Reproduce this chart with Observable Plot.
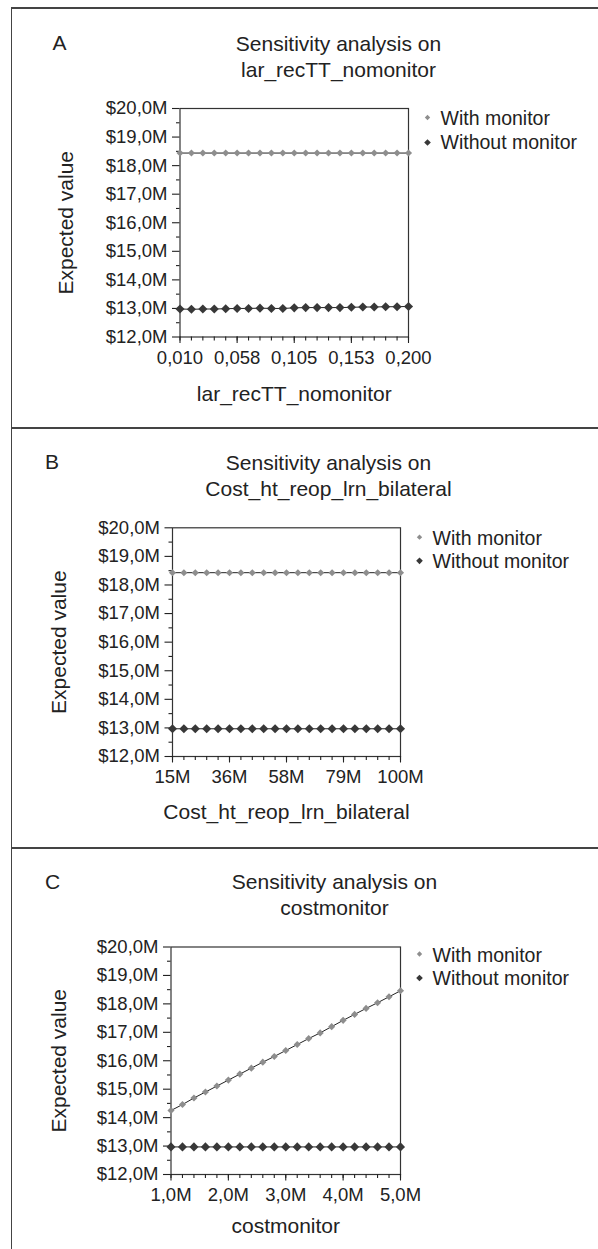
<!DOCTYPE html>
<html><head><meta charset="utf-8">
<script src="https://cdn.jsdelivr.net/npm/d3@7"></script>
<script src="https://cdn.jsdelivr.net/npm/@observablehq/plot@0.6"></script>
<style>
html,body{margin:0;padding:0;background:#fff;}
#root{position:relative;width:598px;height:1249px;overflow:hidden;font-family:"Liberation Sans",Arial,sans-serif;color:#222;}
.rule{position:absolute;background:#444;}
.psvg{position:absolute;left:0;}
</style></head><body><div id="root"></div>
<script>
// ---------- data ----------
const panelLetters = ["A", "B", "C"];
const variableNames = ["lar_recTT_nomonitor", "Cost_ht_reop_lrn_bilateral", "costmonitor"];
const titlePrefix = "Sensitivity analysis on";
const yLabel = "Expected value";
const seriesNames = ["With monitor", "Without monitor"];

const yTicks = [12, 13, 14, 15, 16, 17, 18, 19, 20];
const yMinorTicks = [12.5, 13.5, 14.5, 15.5, 16.5, 17.5, 18.5, 19.5];
const yTickLabels = ["$12,0M", "$13,0M", "$14,0M", "$15,0M", "$16,0M", "$17,0M", "$18,0M", "$19,0M", "$20,0M"];

// Panel A: lar_recTT_nomonitor
const xA = [0.0100, 0.0195, 0.0290, 0.0385, 0.0480, 0.0575, 0.0670, 0.0765, 0.0860, 0.0955, 0.1050,
            0.1145, 0.1240, 0.1335, 0.1430, 0.1525, 0.1620, 0.1715, 0.1810, 0.1905, 0.2000];
const xTicksA = [0.010, 0.0575, 0.105, 0.1525, 0.200];
const xTickLabelsA = ["0,010", "0,058", "0,105", "0,153", "0,200"];
const withA = [18.44, 18.44, 18.44, 18.44, 18.44, 18.44, 18.44, 18.44, 18.44, 18.44, 18.44,
               18.44, 18.44, 18.44, 18.44, 18.44, 18.44, 18.44, 18.44, 18.44, 18.44];
const withoutA = [12.98, 12.97, 12.98, 12.98, 12.99, 13.00, 13.00, 13.01, 13.00, 13.00, 13.02,
                  13.03, 13.03, 13.03, 13.03, 13.04, 13.05, 13.05, 13.06, 13.06, 13.07];

// Panel B: Cost_ht_reop_lrn_bilateral (millions)
const xB = [15, 19.25, 23.5, 27.75, 32, 36.25, 40.5, 44.75, 49, 53.25, 57.5,
            61.75, 66, 70.25, 74.5, 78.75, 83, 87.25, 91.5, 95.75, 100];
const xTicksB = [15, 36.25, 57.5, 78.75, 100];
const xTickLabelsB = ["15M", "36M", "58M", "79M", "100M"];
const withB = [18.43, 18.43, 18.43, 18.43, 18.43, 18.43, 18.43, 18.43, 18.43, 18.43, 18.43,
               18.43, 18.43, 18.43, 18.43, 18.43, 18.43, 18.43, 18.43, 18.43, 18.43];
const withoutB = [12.97, 12.97, 12.97, 12.97, 12.97, 12.97, 12.97, 12.97, 12.97, 12.97, 12.97,
                  12.97, 12.97, 12.97, 12.97, 12.97, 12.97, 12.97, 12.97, 12.97, 12.97];

// Panel C: costmonitor (millions)
const xC = [1.0, 1.2, 1.4, 1.6, 1.8, 2.0, 2.2, 2.4, 2.6, 2.8, 3.0,
            3.2, 3.4, 3.6, 3.8, 4.0, 4.2, 4.4, 4.6, 4.8, 5.0];
const xTicksC = [1, 2, 3, 4, 5];
const xTickLabelsC = ["1,0M", "2,0M", "3,0M", "4,0M", "5,0M"];
const withC = [14.25, 14.46, 14.69, 14.90, 15.11, 15.32, 15.53, 15.74, 15.95, 16.15, 16.36,
               16.57, 16.78, 16.98, 17.20, 17.42, 17.63, 17.84, 18.04, 18.25, 18.46];
const withoutC = [12.97, 12.97, 12.97, 12.97, 12.97, 12.97, 12.97, 12.97, 12.97, 12.97, 12.97,
                  12.97, 12.97, 12.97, 12.97, 12.97, 12.97, 12.97, 12.97, 12.97, 12.97];

// ---------- layout ----------
const FONT = "'Liberation Sans', Arial, Helvetica, sans-serif";
const INK = "#222";
const WITH_COLOR = "#8e8e8e";
const WITHOUT_COLOR = "#383838";

const panels = [
  {x: xA, w: withA, wo: withoutA, ticks: xTicksA, labels: xTickLabelsA,
   top: 8, h: 420, left: 179.5, right: 408, frameTop: 108, frameBottom: 336.5,
   titleX: 338, titleY: 55, letterX: 59, letterY: 43, yLabX: 66, xLabDy: 57.5, legDy: [9, 34]},
  {x: xB, w: withB, wo: withoutB, ticks: xTicksB, labels: xTickLabelsB,
   top: 428, h: 420, left: 172, right: 400, frameTop: 527.3, frameBottom: 756,
   titleX: 328, titleY: 474, letterX: 51.5, letterY: 462, yLabX: 59, xLabDy: 55.7, legDy: [9.4, 33]},
  {x: xC, w: withC, wo: withoutC, ticks: xTicksC, labels: xTickLabelsC,
   top: 848, h: 401, left: 170.5, right: 400, frameTop: 946.5, frameBottom: 1174,
   titleX: 334, titleY: 893.5, letterX: 52, letterY: 882, yLabX: 59, xLabDy: 52, legDy: [7, 31]}
];

const root = document.getElementById("root");
function rule(l, t, w, h) {
  const d = document.createElement("div");
  d.className = "rule";
  d.style.left = l + "px"; d.style.top = t + "px";
  d.style.width = w + "px"; d.style.height = h + "px";
  root.appendChild(d);
}

const yLabMap = new Map(yTicks.map((v, i) => [v, yTickLabels[i]]));

panels.forEach((p, k) => {
  const rowsWith = p.x.map((x, i) => ({x, y: p.w[i]}));
  const rowsWithout = p.x.map((x, i) => ({x, y: p.wo[i]}));
  const xLabMap = new Map(p.ticks.map((v, i) => [v, p.labels[i]]));
  const frameTopRel = p.frameTop - p.top;
  const frameBottomRel = p.frameBottom - p.top;
  const midX = (p.left + p.right) / 2;

  const svg = Plot.plot({
    width: 598,
    height: p.h,
    marginLeft: p.left,
    marginRight: 598 - p.right,
    marginTop: frameTopRel,
    marginBottom: p.h - frameBottomRel,
    style: {fontFamily: FONT, fontSize: "18.5px", color: INK, background: "transparent", overflow: "visible"},
    x: {domain: [p.x[0], p.x[p.x.length - 1]]},
    y: {domain: [12, 20]},
    marks: [
      Plot.frame({stroke: "#333", strokeWidth: 1.2}),
      Plot.axisY({ticks: yMinorTicks, tickSize: 3.5, tickFormat: () => "", label: null, strokeWidth: 1.1}),
      Plot.axisY({ticks: yTicks, tickSize: 7.5, tickPadding: 5, tickFormat: d => yLabMap.get(d), label: null, strokeWidth: 1.1}),
      Plot.axisX({ticks: p.x, tickSize: 4, tickFormat: () => "", label: null, strokeWidth: 1.1}),
      Plot.axisX({ticks: p.ticks, tickSize: 6.5, tickPadding: 7, tickFormat: d => xLabMap.get(d), label: null, strokeWidth: 1.1}),
      Plot.line(rowsWith, {x: "x", y: "y", stroke: "#222", strokeWidth: 1}),
      Plot.line(rowsWithout, {x: "x", y: "y", stroke: "#222", strokeWidth: 1}),
      Plot.dot(rowsWith, {x: "x", y: "y", symbol: "diamond2", fill: WITH_COLOR, r: 3.2}),
      Plot.dot(rowsWithout, {x: "x", y: "y", symbol: "diamond2", fill: WITHOUT_COLOR, r: 4.1}),
      // title
      Plot.text([titlePrefix + "\n" + variableNames[k]], {frameAnchor: "top", dx: p.titleX - midX, dy: (p.titleY - p.top) - frameTopRel,
        lineAnchor: "middle", textAnchor: "middle", fontSize: 21, lineHeight: 1.24, fill: INK}),
      // panel letter
      Plot.text([panelLetters[k]], {frameAnchor: "top-left", dx: p.letterX - p.left, dy: (p.letterY - p.top) - frameTopRel,
        lineAnchor: "middle", textAnchor: "middle", fontSize: 21, fill: INK}),
      // axis labels
      Plot.text([variableNames[k]], {frameAnchor: "bottom", dy: p.xLabDy, lineAnchor: "middle", textAnchor: "middle", fontSize: 21, fill: INK}),
      Plot.text([yLabel], {frameAnchor: "left", dx: p.yLabX - p.left, rotate: -90, lineAnchor: "middle", textAnchor: "middle", fontSize: 21, fill: INK}),
      // legend
      Plot.dot([0], {frameAnchor: "top-right", dx: 19, dy: p.legDy[0], symbol: "diamond2", fill: WITH_COLOR, r: 2.4}),
      Plot.dot([0], {frameAnchor: "top-right", dx: 19, dy: p.legDy[1], symbol: "diamond2", fill: WITHOUT_COLOR, r: 3.0}),
      Plot.text([seriesNames[0]], {frameAnchor: "top-right", dx: 32, dy: p.legDy[0] + 1.5, textAnchor: "start", lineAnchor: "middle", fontSize: 19.5, fill: INK}),
      Plot.text([seriesNames[1]], {frameAnchor: "top-right", dx: 32, dy: p.legDy[1] + 0.5, textAnchor: "start", lineAnchor: "middle", fontSize: 19.5, fill: INK})
    ]
  });
  svg.classList.add("psvg");
  svg.style.top = p.top + "px";
  root.appendChild(svg);
});

// panel borders
rule(10.5, 7, 1.5, 1249 - 7);
rule(10.5, 7, 600, 1.5);
rule(10.5, 427, 600, 1.5);
rule(10.5, 847, 600, 1.5);
</script></body></html>
